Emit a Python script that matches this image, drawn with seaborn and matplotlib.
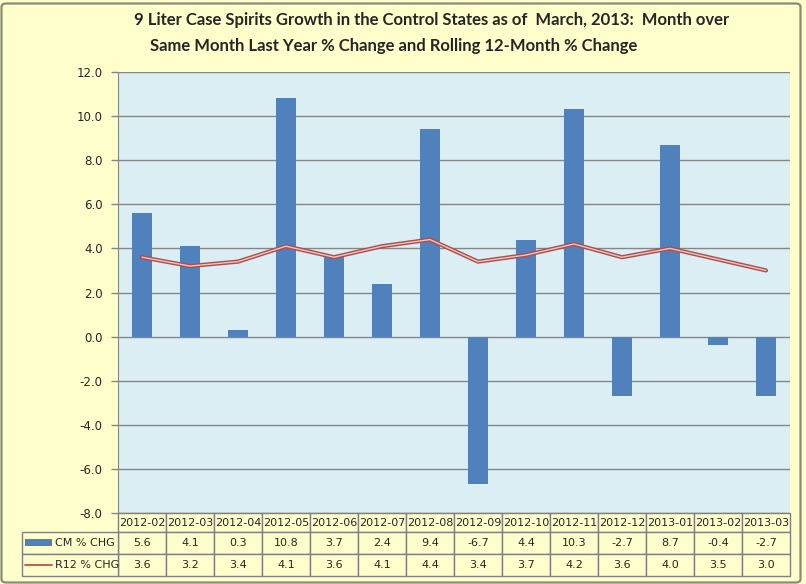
import numpy as np
import pandas as pd
import matplotlib
matplotlib.use("Agg")
import matplotlib.pyplot as plt
import matplotlib.patheffects as pe
from matplotlib.patches import Rectangle, FancyBboxPatch
from matplotlib.lines import Line2D
import seaborn as sns

# ------------- Data -------------
months = ['2012-02', '2012-03', '2012-04', '2012-05', '2012-06', '2012-07', '2012-08',
          '2012-09', '2012-10', '2012-11', '2012-12', '2013-01', '2013-02', '2013-03']
cm_chg = [5.6, 4.1, 0.3, 10.8, 3.7, 2.4, 9.4, -6.7, 4.4, 10.3, -2.7, 8.7, -0.4, -2.7]
r12_chg = [3.6, 3.2, 3.4, 4.1, 3.6, 4.1, 4.4, 3.4, 3.7, 4.2, 3.6, 4.0, 3.5, 3.0]
series_names = ['CM % CHG', 'R12 % CHG']
title_1 = '9 Liter Case Spirits Growth in the Control States as of  March, 2013:  Month over'
title_2 = 'Same Month Last Year % Change and Rolling 12-Month % Change'

df = pd.DataFrame({'month': months, 'cm': cm_chg, 'r12': r12_chg})

# ------------- Style -------------
fig_bg = '#FFFFCC'
plot_bg = '#DBEEF4'
bar_col = '#4F81BD'
grid_col = '#868686'
line_outer = '#B04C49'
line_inner = '#EBC6C4'

sns.set_style('white')
plt.rcParams['font.family'] = ['DejaVu Sans']

W, H = 806, 584
fig = plt.figure(figsize=(W / 100, H / 100), dpi=100, facecolor=fig_bg)

def fx(x):   # pixel x -> figure fraction
    return x / W

def fy(y):   # pixel y (from top) -> figure fraction
    return 1 - y / H

# plot area in pixels
px_l, px_r, px_t, px_b = 118, 790, 72, 513
ax = fig.add_axes([fx(px_l), fy(px_b), (px_r - px_l) / W, (px_b - px_t) / H])
ax.set_facecolor(plot_bg)

# ------------- Bars + line -------------
sns.barplot(data=df, x='month', y='cm', color=bar_col, width=0.4, saturation=1,
            edgecolor='none', linewidth=0, ax=ax, zorder=3)
sns.lineplot(x=np.arange(len(months)), y=df['r12'], ax=ax, color=line_inner, lw=1.0,
             zorder=4, path_effects=[pe.Stroke(linewidth=3.0, foreground=line_outer), pe.Normal()])

ax.set_xlim(-0.5, len(months) - 0.5)
ax.set_ylim(-8, 12)
yt = np.arange(-8, 12.1, 2)
ax.set_yticks(yt)
ax.set_yticklabels([f'{v:.1f}' for v in yt], fontsize=8.5)
ax.yaxis.grid(True, color=grid_col, lw=1)
ax.set_axisbelow(True)
ax.set_xticks([])
ax.set_xlabel('')
ax.set_ylabel('')
ax.tick_params(axis='y', length=5, color=grid_col, width=1, pad=6, left=True)
for s in ['top', 'right', 'bottom']:
    ax.spines[s].set_visible(False)
ax.spines['left'].set_color(grid_col)

# ------------- Data table (drawn cell by cell) -------------
tbl_l = 22
col_w = (px_r - px_l) / len(months)
row_edges = [513, 532, 554, 576]
cell_text = [[f'{v:.1f}' for v in cm_chg], [f'{v:.1f}' for v in r12_chg]]

def cell(x0, x1, y0, y1, txt, ha='center', tx=None):
    fig.patches.append(Rectangle((fx(x0), fy(y1)), fx(x1) - fx(x0), fy(y0) - fy(y1),
                                 transform=fig.transFigure, facecolor=fig_bg,
                                 edgecolor='#808080', lw=1, zorder=1))
    xt = (x0 + x1) / 2 if tx is None else tx
    fig.text(fx(xt), fy((y0 + y1) / 2 + 0.5), txt, fontsize=8, ha=ha, va='center')

for i, m in enumerate(months):
    x0 = px_l + i * col_w
    cell(x0, x0 + col_w, row_edges[0], row_edges[1], m)
    for r in range(2):
        cell(x0, x0 + col_w, row_edges[r + 1], row_edges[r + 2], cell_text[r][i])
for r in range(2):
    cell(tbl_l, px_l, row_edges[r + 1], row_edges[r + 2], series_names[r], ha='left', tx=55)

# legend keys
fig.patches.append(Rectangle((fx(25), fy(546)), 27 / W, 7 / H,
                             transform=fig.transFigure, facecolor=bar_col, edgecolor='none'))
fig.lines.append(Line2D([fx(25), fx(52)], [fy(565), fy(565)], transform=fig.transFigure,
                        color='#C0504D', lw=1.3))

# ------------- Title -------------
fig.text(fx(432), fy(20), title_1, fontsize=12, fontweight='bold', family='Lato',
         ha='center', va='center')
fig.text(fx(394), fy(46), title_2, fontsize=12, fontweight='bold', family='Lato',
         ha='center', va='center')

# chart border
fig.patches.append(FancyBboxPatch((1.5 / W, 1.5 / H), (W - 7) / W, (H - 5) / H,
                                  boxstyle='round,pad=0,rounding_size=0.006',
                                  transform=fig.transFigure, facecolor='none',
                                  edgecolor='#8A8A7A', lw=1.6))

plt.savefig('out.png', dpi=100, facecolor=fig_bg)
